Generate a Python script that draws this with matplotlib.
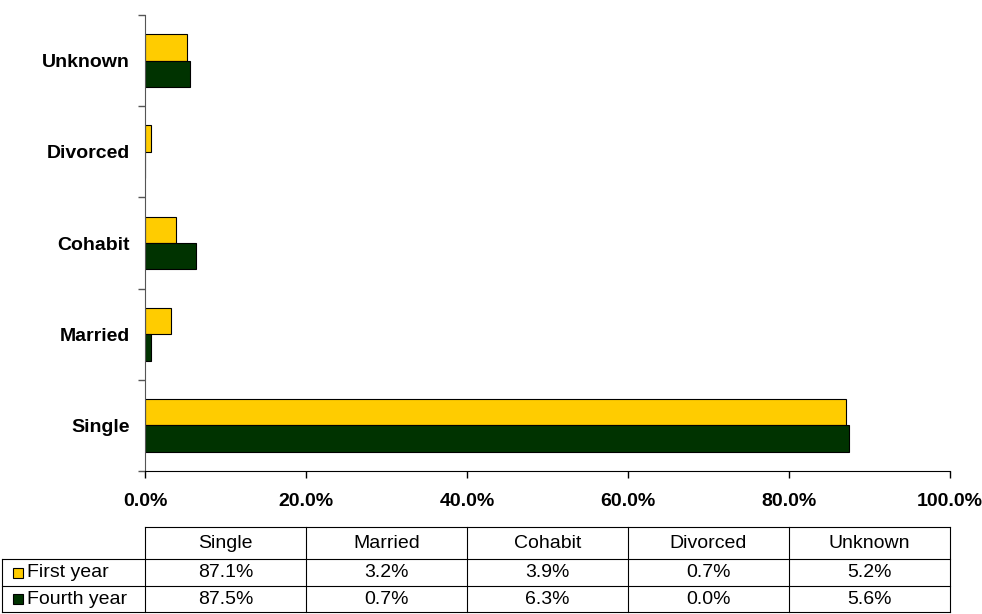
import numpy as np
from matplotlib import pyplot as plt
from matplotlib.patches import Rectangle

# Data
categories = ["Single", "Married", "Cohabit", "Divorced", "Unknown"]
first_year = [87.1, 3.2, 3.9, 0.7, 5.2]
fourth_year = [87.5, 0.7, 6.3, 0.0, 5.6]
series_names = ["First year", "Fourth year"]
colors = ["#FFCC00", "#003300"]
x_ticks = [0, 20, 40, 60, 80, 100]

plt.rcParams["font.family"] = ["Liberation Sans", "DejaVu Sans"]

W, H = 982, 614
fig = plt.figure(figsize=(W / 100, H / 100), dpi=100)

# axes in pixel coordinates: left 145, right 950, top 15, bottom 471
ax = fig.add_axes([145 / W, 1 - 471 / H, (950 - 145) / W, (471 - 15) / H])

y = np.arange(len(categories))
h = 0.29
ax.barh(y + h / 2, first_year, height=h, color=colors[0], edgecolor="black", linewidth=0.8)
ax.barh(y - h / 2, fourth_year, height=h, color=colors[1], edgecolor="black", linewidth=0.8)

ax.set_xlim(0, 100)
ax.set_ylim(-0.5, len(categories) - 0.5)
ax.set_xticks(x_ticks)
ax.set_xticklabels([f"{v:.1f}%" for v in x_ticks], fontsize=14, fontweight="bold")
ax.set_yticks(y)
ax.set_yticklabels(categories, fontsize=14, fontweight="bold")
ax.set_yticks(np.arange(-0.5, len(categories)), minor=True)
ax.tick_params(axis="y", which="major", length=0, pad=11)
ax.tick_params(axis="y", which="minor", length=5, color="#555555", width=1)
ax.tick_params(axis="x", length=5, width=1, pad=11)
for s in ["top", "right"]:
    ax.spines[s].set_visible(False)
ax.spines["left"].set_color("#555555")
ax.spines["bottom"].set_color("black")

# Data table beneath the chart, drawn in pixel coordinates
col_edges = [145, 306, 467, 628, 789, 950]
row_edges = [527, 559, 586, 612]
row_left = 2


def fx(px):
    return px / W


def fy(py):
    return 1 - py / H


lines = []
# horizontal lines
lines.append(([col_edges[0], col_edges[-1]], [row_edges[0]] * 2))
for r in row_edges[1:]:
    lines.append(([row_left, col_edges[-1]], [r, r]))
# vertical lines
for c in col_edges:
    lines.append(([c, c], [row_edges[0], row_edges[-1]]))
lines.append(([row_left, row_left], [row_edges[1], row_edges[-1]]))
for xs, ys in lines:
    fig.add_artist(plt.Line2D([fx(v) for v in xs], [fy(v) for v in ys], color="black", linewidth=0.8))

# header row
for i, cat in enumerate(categories):
    cx = (col_edges[i] + col_edges[i + 1]) / 2
    cy = (row_edges[0] + row_edges[1]) / 2
    fig.text(fx(cx), fy(cy), cat, ha="center", va="center", fontsize=14)

# data rows
for r, (name, vals) in enumerate(zip(series_names, [first_year, fourth_year])):
    cy = (row_edges[r + 1] + row_edges[r + 2]) / 2
    fig.add_artist(Rectangle((fx(13), fy(cy + 5)), 10 / W, 10 / H, facecolor=colors[r],
                             edgecolor="black", linewidth=0.8))
    fig.text(fx(27), fy(cy), name, ha="left", va="center", fontsize=14)
    for i, v in enumerate(vals):
        cx = (col_edges[i] + col_edges[i + 1]) / 2
        fig.text(fx(cx), fy(cy), f"{v:.1f}%", ha="center", va="center", fontsize=14)

fig.savefig("out.png", dpi=100)
